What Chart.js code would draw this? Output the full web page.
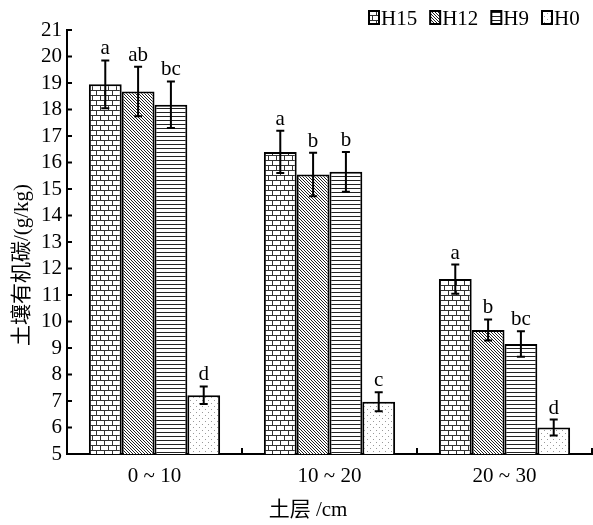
<!DOCTYPE html>
<html lang="zh">
<head>
<meta charset="UTF-8">
<title>土壤有机碳</title>
<script src="https://cdn.jsdelivr.net/npm/chart.js"></script>
<style>
  body { margin: 0; background: #fff; }
  canvas { display: block; }
</style>
</head>
<body>
<canvas id="soc" width="593" height="525"></canvas>
<script>
// data
const layers = ['0 ~ 10', '10 ~ 20', '20 ~ 30'];
const seriesNames = ['H15', 'H12', 'H9', 'H0'];
const h15 = [18.95, 16.4, 11.6];
const h12 = [18.68, 15.55, 9.68];
const h9 = [18.18, 15.65, 9.15];
const h0 = [7.22, 6.97, 6.0];
const h15Err = [0.9, 0.8, 0.55];
const h12Err = [0.93, 0.82, 0.4];
const h9Err = [0.88, 0.75, 0.48];
const h0Err = [0.33, 0.36, 0.3];
const h15Sig = ['a', 'a', 'a'];
const h12Sig = ['ab', 'b', 'b'];
const h9Sig = ['bc', 'b', 'bc'];
const h0Sig = ['d', 'c', 'd'];
const yTicks = [5, 6, 7, 8, 9, 10, 11, 12, 13, 14, 15, 16, 17, 18, 19, 20, 21];

const values = [h15, h12, h9, h0];
const errors = [h15Err, h12Err, h9Err, h0Err];
const sigs = [h15Sig, h12Sig, h9Sig, h0Sig];

const serif = '"Liberation Serif", "Noto Sans CJK SC", serif';

// fill patterns for the four treatments
function makePattern(kind) {
    const c = document.createElement('canvas');
    const g = c.getContext('2d');
    if (kind === 'brick') {
        c.width = 8; c.height = 10;
        g.fillStyle = '#fff'; g.fillRect(0, 0, 8, 10);
        g.fillStyle = '#333';
        g.fillRect(0, 0, 8, 1);
        g.fillRect(0, 5, 8, 1);
        g.fillRect(0, 0, 1, 5);
        g.fillRect(4, 5, 1, 5);
    } else if (kind === 'diag') {
        c.width = 3; c.height = 3;
        g.fillStyle = '#fff'; g.fillRect(0, 0, 3, 3);
        g.fillStyle = '#222';
        for (let i = 0; i < 3; i++) g.fillRect(i, i, 1, 1);
    } else if (kind === 'hline') {
        c.width = 4; c.height = 4;
        g.fillStyle = '#fff'; g.fillRect(0, 0, 4, 4);
        g.fillStyle = '#222'; g.fillRect(0, 0, 4, 1);
    } else {
        c.width = 6; c.height = 6;
        g.fillStyle = '#fff'; g.fillRect(0, 0, 6, 6);
        g.fillStyle = '#999';
        g.fillRect(1, 1, 1, 1);
        g.fillRect(4, 4, 1, 1);
    }
    return g.createPattern(c, 'repeat');
}

const fills = [makePattern('brick'), makePattern('diag'), makePattern('hline'), makePattern('dots')];

const datasets = seriesNames.map((name, i) => ({
    label: name,
    data: values[i],
    backgroundColor: fills[i],
    borderColor: '#000',
    borderWidth: 2,
    categoryPercentage: 0.75,
    barPercentage: 1.0
}));

// error bars, letters, inside ticks, titles and legend
const extras = {
    id: 'extras',
    afterDatasetsDraw(chart) {
        const ctx = chart.ctx;
        const y = chart.scales.y;
        ctx.save();
        ctx.strokeStyle = '#000';
        ctx.lineWidth = 2;
        ctx.fillStyle = '#000';
        ctx.font = '21px ' + serif;
        ctx.textAlign = 'center';
        ctx.textBaseline = 'alphabetic';
        chart.data.datasets.forEach((ds, i) => {
            chart.getDatasetMeta(i).data.forEach((bar, j) => {
                const v = ds.data[j], e = errors[i][j];
                const yt = y.getPixelForValue(v + e);
                const yb = y.getPixelForValue(v - e);
                ctx.beginPath();
                ctx.moveTo(bar.x, yt); ctx.lineTo(bar.x, yb);
                ctx.moveTo(bar.x - 4, yt); ctx.lineTo(bar.x + 4, yt);
                ctx.moveTo(bar.x - 4, yb); ctx.lineTo(bar.x + 4, yb);
                ctx.stroke();
                ctx.fillText(sigs[i][j], bar.x, yt - 6);
            });
        });
        ctx.restore();
    },
    afterDraw(chart) {
        const ctx = chart.ctx;
        const x = chart.scales.x, y = chart.scales.y;
        const area = chart.chartArea;
        ctx.save();
        ctx.strokeStyle = '#000';
        ctx.lineWidth = 2;
        ctx.beginPath();
        yTicks.forEach(t => {
            const py = y.getPixelForValue(t);
            ctx.moveTo(area.left, py); ctx.lineTo(area.left + 5, py);
        });
        const step = x.getPixelForValue(1) - x.getPixelForValue(0);
        layers.forEach((l, j) => {
            const px = x.getPixelForValue(j) + step / 2;
            ctx.moveTo(px, area.bottom); ctx.lineTo(px, area.bottom - 6);
        });
        ctx.stroke();

        // axis titles
        ctx.fillStyle = '#000';
        ctx.font = '21px ' + serif;
        ctx.textAlign = 'center';
        ctx.textBaseline = 'middle';
        ctx.fillText('土层 /cm', 308, 510);
        ctx.translate(22, 265);
        ctx.rotate(-Math.PI / 2);
        ctx.fillText('土壤有机碳/(g/kg)', 0, 0);
        ctx.restore();

        // legend
        ctx.save();
        ctx.font = '21px ' + serif;
        ctx.textBaseline = 'alphabetic';
        ctx.textAlign = 'left';
        let lx = 369;
        seriesNames.forEach((name, i) => {
            ctx.fillStyle = fills[i];
            ctx.fillRect(lx, 11, 10, 13);
            ctx.strokeStyle = '#000';
            ctx.lineWidth = 2;
            ctx.strokeRect(lx, 11, 10, 13);
            ctx.fillStyle = '#000';
            ctx.fillText(name, lx + 12, 25);
            lx += 12 + ctx.measureText(name).width + 13;
        });
        ctx.restore();
    }
};

new Chart(document.getElementById('soc'), {
    type: 'bar',
    data: { labels: layers, datasets: datasets },
    options: {
        responsive: false,
        animation: false,
        layout: { padding: { top: 30, right: 1, left: 0, bottom: 0 } },
        plugins: {
            legend: { display: false },
            tooltip: { enabled: false }
        },
        scales: {
            x: {
                grid: { display: false, drawTicks: false },
                border: { display: true, color: '#000', width: 2 },
                ticks: { color: '#000', font: { family: serif, size: 21 }, padding: 10 },
                afterFit(scale) { scale.height = 71; }
            },
            y: {
                min: 5,
                max: 21,
                grid: { display: false, drawTicks: false },
                border: { display: true, color: '#000', width: 2 },
                ticks: { stepSize: 1, autoSkip: false, color: '#000', font: { family: serif, size: 21 }, padding: 5 },
                afterFit(scale) { scale.width = 67; }
            }
        }
    },
    plugins: [extras]
});
</script>
</body>
</html>
